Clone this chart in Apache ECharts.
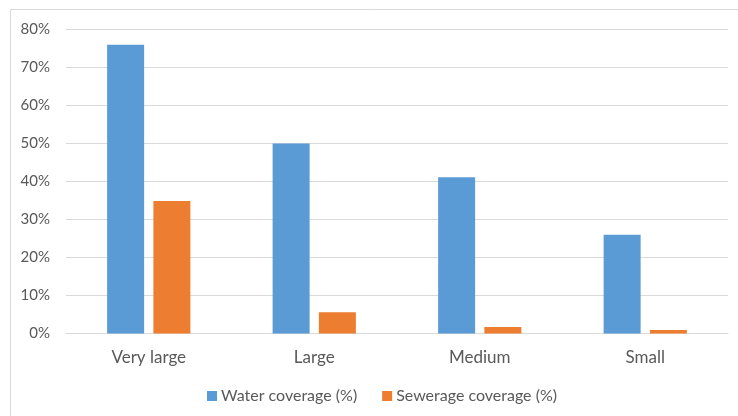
<!DOCTYPE html>
<html>
<head>
<meta charset="utf-8">
<script src="https://cdn.jsdelivr.net/npm/echarts@6/dist/echarts.min.js"></script>
<style>
  html, body { margin: 0; padding: 0; background: #ffffff; }
  #chart { width: 738px; height: 416px; }
</style>
</head>
<body>
<div id="chart"></div>
<script>
// City size classes and coverage rates (%)
const categories = ['Very large', 'Large', 'Medium', 'Small'];
const waterCoverage = [76, 50, 41.1, 26];
const sewerageCoverage = [34.9, 5.6, 1.7, 0.9];
const seriesNames = ['Water coverage (%)', 'Sewerage coverage (%)'];
const yTicks = { min: 0, max: 80, interval: 10 };

const textColor = '#595959';
const fontFamily = 'Lato, "Open Sans", sans-serif';

const chart = echarts.init(document.getElementById('chart'), null, { renderer: 'canvas' });

chart.setOption({
  animation: false,
  backgroundColor: '#ffffff',
  color: ['#5b9bd5', '#ed7d31'],
  textStyle: { fontFamily: fontFamily },
  graphic: [
    // frame lines along the top and left edges
    { type: 'line', shape: { x1: 10.5, y1: 9.5, x2: 738, y2: 9.5 },
      style: { stroke: '#d9d9d9', lineWidth: 1 } },
    { type: 'line', shape: { x1: 10.5, y1: 9.5, x2: 10.5, y2: 416 },
      style: { stroke: '#d9d9d9', lineWidth: 1 } }
  ],
  grid: { left: 66, right: 10, top: 29.5, bottom: 82.5, containLabel: false },
  legend: {
    data: seriesNames,
    left: 207,
    top: 388,
    padding: 0,
    itemWidth: 10,
    itemHeight: 10,
    itemGap: 25,
    icon: 'rect',
    textStyle: { color: textColor, fontSize: 16, fontFamily: fontFamily, padding: [0, 0, 0, -1] }
  },
  xAxis: {
    type: 'category',
    data: categories,
    axisLine: { show: true, lineStyle: { color: '#d9d9d9', width: 1 } },
    axisTick: { show: false },
    axisLabel: { color: textColor, fontSize: 17, margin: 16, fontFamily: fontFamily }
  },
  yAxis: {
    type: 'value',
    min: yTicks.min,
    max: yTicks.max,
    interval: yTicks.interval,
    axisLine: { show: false },
    axisTick: { show: false },
    splitLine: { lineStyle: { color: '#d9d9d9', width: 1 } },
    axisLabel: { color: textColor, fontSize: 15, margin: 16, formatter: '{value}%', fontFamily: fontFamily }
  },
  series: [
    {
      name: seriesNames[0],
      type: 'bar',
      data: waterCoverage,
      barWidth: 37,
      barGap: '25%'
    },
    {
      name: seriesNames[1],
      type: 'bar',
      data: sewerageCoverage,
      barWidth: 37,
      barGap: '25%'
    }
  ]
});
</script>
</body>
</html>
